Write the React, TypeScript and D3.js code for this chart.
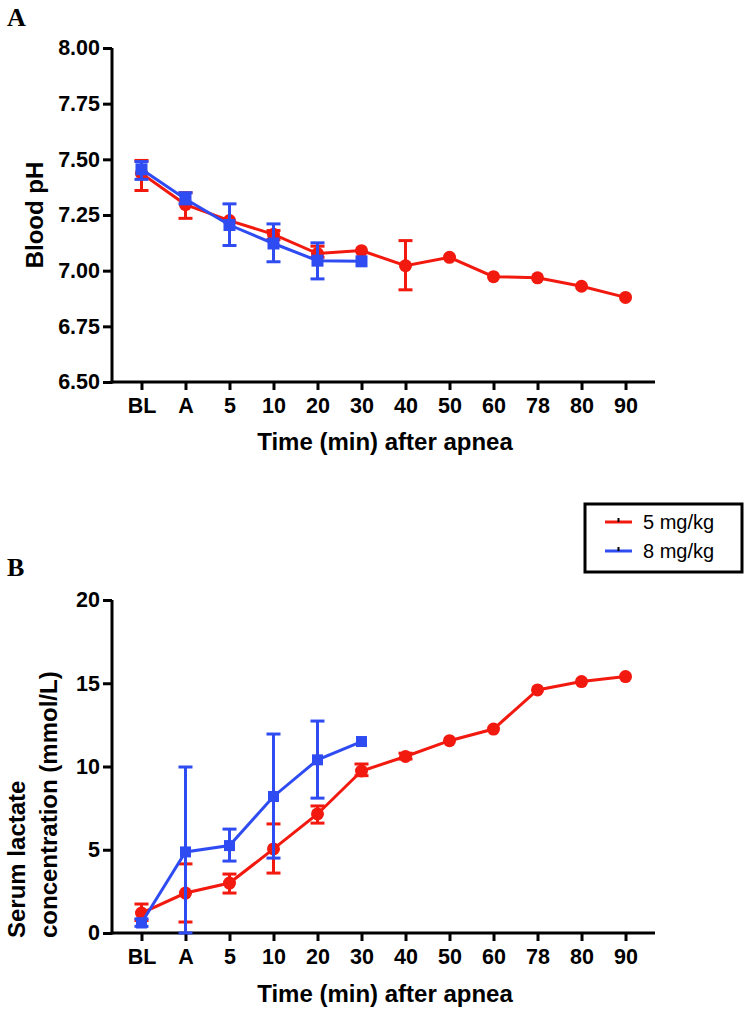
import React, { useEffect, useRef } from 'react';
import * as d3 from 'd3';

const categories = ['BL', 'A', '5', '10', '20', '30', '40', '50', '60', '78', '80', '90'];

// Panel A: blood pH
const phLow = [7.437, 7.297, 7.225, 7.163, 7.077, 7.09, 7.022, 7.06, 6.973, 6.968, 6.93, 6.88];
const phLowErrLo = [7.36, 7.235, null, 7.14, 7.06, null, 6.914, null, null, null, null, null];
const phLowErrHi = [7.495, 7.35, null, 7.18, 7.11, null, 7.135, null, null, null, null, null];
const phHigh = [7.455, 7.322, 7.205, 7.122, 7.045, 7.042];
const phHighErrLo = [7.41, 7.3, 7.113, 7.04, 6.963, null];
const phHighErrHi = [7.49, 7.35, 7.3, 7.21, 7.125, null];
const phTicks = [6.5, 6.75, 7.0, 7.25, 7.5, 7.75, 8.0];

// Panel B: serum lactate
const lacLow = [1.2, 2.4, 3.0, 5.05, 7.15, 9.73, 10.6, 11.55, 12.25, 14.6, 15.1, 15.4];
const lacLowErrLo = [0.75, 0.66, 2.4, 3.6, 6.6, 9.45, 10.45, null, null, null, null, null];
const lacLowErrHi = [1.74, 4.15, 3.54, 6.55, 7.63, 10.15, 10.8, null, null, null, null, null];
const lacHigh = [0.6, 4.87, 5.25, 8.2, 10.4, 11.5];
const lacHighErrLo = [0.4, 0, 4.32, 4.5, 8.1, null];
const lacHighErrHi = [0.85, 9.97, 6.24, 11.95, 12.73, null];
const lacTicks = [0, 5, 10, 15, 20];

const seriesNames = ['5 mg/kg', '8 mg/kg'];
const RED = '#f2190f';
const BLUE = '#2f4cf2';
const FONT = '"Liberation Sans", Arial, Helvetica, sans-serif';

interface Series {
    values: number[];
    lo: (number | null)[];
    hi: (number | null)[];
    color: string;
    shape: 'circle' | 'square';
}

const App: React.FC = () => {
    const ref = useRef<SVGSVGElement>(null);

    useEffect(() => {
        if (!ref.current) return;
        const svg = d3.select(ref.current);
        svg.selectAll('*').remove();

        const x = d3.scalePoint<string>().domain(categories).range([112, 655]).padding(0.67);

        const drawPanel = (
            domain: [number, number],
            yRange: [number, number],
            ticks: number[],
            fmt: (v: number) => string,
            series: Series[],
            sqSize: number,
        ) => {
            const y = d3.scaleLinear().domain(domain).range(yRange);
            const g = svg.append('g');

            const yAxis = g.append('g')
                .attr('transform', `translate(112,0)`)
                .call(d3.axisLeft(y).tickValues(ticks).tickSize(9).tickSizeOuter(0).tickPadding(3).tickFormat(d => fmt(+d)));
            const xAxis = g.append('g')
                .attr('transform', `translate(0,${yRange[0]})`)
                .call(d3.axisBottom(x).tickSize(8).tickSizeOuter(0).tickPadding(8));
            [yAxis, xAxis].forEach(a => {
                a.select('.domain').attr('stroke', '#000').attr('stroke-width', 3);
                a.selectAll('.tick line').attr('stroke', '#000').attr('stroke-width', 3);
                a.selectAll('.tick text')
                    .attr('fill', '#000')
                    .style('font-family', FONT)
                    .style('font-weight', 'bold')
                    .style('font-size', '21.5px');
            });
            yAxis.select('.domain').attr('d', `M0,${yRange[0] + 1.5}V${yRange[1]}`);
            xAxis.select('.domain').attr('d', `M${110.5},0H655`);

            series.forEach(s => {
                const pts = s.values.map((v, i) => ({ cx: x(categories[i])!, v, lo: s.lo[i], hi: s.hi[i] }));
                const line = d3.line<typeof pts[0]>().x(d => d.cx).y(d => y(d.v));
                g.append('path')
                    .attr('d', line(pts)!)
                    .attr('fill', 'none')
                    .attr('stroke', s.color)
                    .attr('stroke-width', 3);

                const eb = g.append('g').attr('stroke', s.color).attr('stroke-width', 3);
                pts.filter(p => p.lo !== null && p.hi !== null).forEach(p => {
                    eb.append('line').attr('x1', p.cx).attr('x2', p.cx).attr('y1', y(p.lo!)).attr('y2', y(p.hi!));
                    [p.lo!, p.hi!].forEach(e => {
                        eb.append('line').attr('x1', p.cx - 7).attr('x2', p.cx + 7).attr('y1', y(e)).attr('y2', y(e));
                    });
                });

                if (s.shape === 'circle') {
                    g.append('g').selectAll('circle').data(pts).enter().append('circle')
                        .attr('cx', d => d.cx).attr('cy', d => y(d.v)).attr('r', 6.5).attr('fill', s.color);
                } else {
                    g.append('g').selectAll('rect').data(pts).enter().append('rect')
                        .attr('x', d => d.cx - sqSize / 2).attr('y', d => y(d.v) - sqSize / 2)
                        .attr('width', sqSize).attr('height', sqSize).attr('fill', s.color);
                }
            });
            return g;
        };

        // Panel A
        const gA = drawPanel([6.5, 8], [382, 48], phTicks, d3.format('.2f'), [
            { values: phLow, lo: phLowErrLo, hi: phLowErrHi, color: RED, shape: 'circle' },
            { values: phHigh, lo: phHighErrLo, hi: phHighErrHi, color: BLUE, shape: 'square' },
        ], 12);
        gA.append('text').attr('x', 385).attr('y', 450).attr('text-anchor', 'middle')
            .style('font-family', FONT).style('font-weight', 'bold').style('font-size', '24px')
            .text('Time (min) after apnea');
        gA.append('text').attr('transform', 'translate(43,215) rotate(-90)').attr('text-anchor', 'middle')
            .style('font-family', FONT).style('font-weight', 'bold').style('font-size', '24px')
            .text('Blood pH');

        // Panel B
        const gB = drawPanel([0, 20], [933, 600], lacTicks, d3.format('d'), [
            { values: lacLow, lo: lacLowErrLo, hi: lacLowErrHi, color: RED, shape: 'circle' },
            { values: lacHigh, lo: lacHighErrLo, hi: lacHighErrHi, color: BLUE, shape: 'square' },
        ], 11);
        gB.append('text').attr('x', 385).attr('y', 1002).attr('text-anchor', 'middle')
            .style('font-family', FONT).style('font-weight', 'bold').style('font-size', '24px')
            .text('Time (min) after apnea');
        const yl = gB.append('text').attr('transform', 'translate(0,938) rotate(-90)').attr('text-anchor', 'start')
            .style('font-family', FONT).style('font-weight', 'bold').style('font-size', '24px');
        yl.append('tspan').attr('x', 0).attr('y', 25).text('Serum lactate');
        yl.append('tspan').attr('x', 0).attr('y', 57).text('concentration (mmol/L)');

        // Panel letters
        [['A', 26], ['B', 576]].forEach(([t, yy]) => {
            svg.append('text').attr('x', 7).attr('y', yy as number)
                .style('font-family', '"Liberation Serif", "DejaVu Serif", serif')
                .style('font-weight', 'bold').style('font-size', '26px')
                .text(t as string);
        });

        // Legend
        const lg = svg.append('g');
        lg.append('rect').attr('x', 585).attr('y', 504).attr('width', 157).attr('height', 68)
            .attr('fill', 'white').attr('stroke', '#000').attr('stroke-width', 3);
        [RED, BLUE].forEach((c, i) => {
            const yy = 522 + i * 29;
            lg.append('line').attr('x1', 605).attr('x2', 632).attr('y1', yy).attr('y2', yy)
                .attr('stroke', c).attr('stroke-width', 3);
            lg.append('rect').attr('x', 617.5).attr('y', yy - 4).attr('width', 2).attr('height', 4).attr('fill', '#000');
            lg.append('text').attr('x', 643).attr('y', yy + 7)
                .style('font-family', FONT).style('font-size', '20px')
                .text(seriesNames[i]);
        });
    }, []);

    return (
        <svg ref={ref} width={745} height={1012}
            style={{ position: 'absolute', left: 0, top: 0, background: 'white' }} />
    );
};

export default App;
